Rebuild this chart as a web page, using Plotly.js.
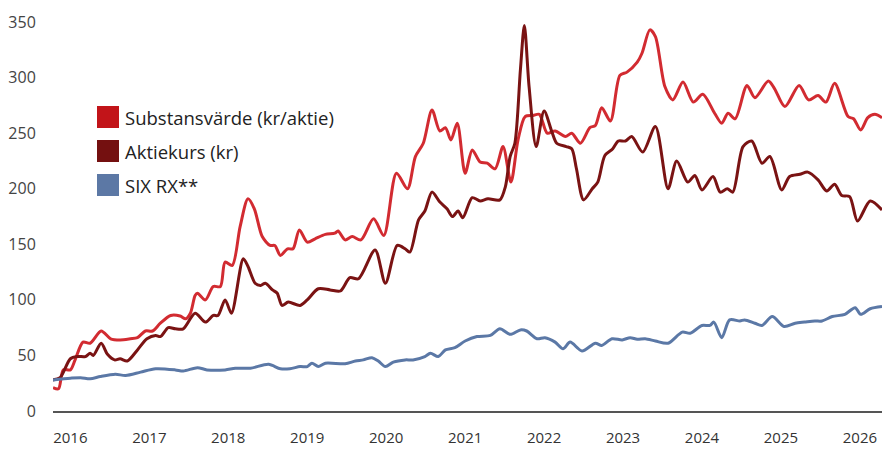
<!DOCTYPE html>
<html>
<head>
<meta charset="utf-8">
<script src="https://cdn.plot.ly/plotly-3.0.1.min.js"></script>
<style>html,body{margin:0;padding:0;background:#fff;}#chart{width:882px;height:449px;}</style>
</head>
<body>
<div id="chart"></div>
<script>
// Series names
const seriesNames = ["Substansvärde (kr/aktie)", "Aktiekurs (kr)", "SIX RX**"];

// Substansvärde (kr/aktie) — decimal year / value
const navX = [2015.78,2015.85,2015.91,2016.00,2016.06,2016.16,2016.25,2016.39,2016.51,2016.63,2016.76,2016.85,2016.95,2017.04,2017.14,2017.27,2017.39,2017.46,2017.52,2017.58,2017.61,2017.71,2017.81,2017.90,2017.96,2018.05,2018.15,2018.25,2018.33,2018.43,2018.53,2018.59,2018.66,2018.75,2018.82,2018.90,2019.00,2019.10,2019.23,2019.35,2019.39,2019.48,2019.57,2019.68,2019.84,2019.97,2020.13,2020.27,2020.37,2020.47,2020.58,2020.68,2020.75,2020.82,2020.90,2021.00,2021.09,2021.19,2021.28,2021.38,2021.48,2021.58,2021.67,2021.76,2021.86,2021.94,2022.04,2022.14,2022.27,2022.35,2022.46,2022.58,2022.65,2022.73,2022.84,2022.96,2023.05,2023.18,2023.24,2023.34,2023.41,2023.53,2023.63,2023.76,2023.89,2024.01,2024.16,2024.25,2024.33,2024.42,2024.57,2024.67,2024.84,2024.92,2025.05,2025.23,2025.35,2025.47,2025.57,2025.68,2025.85,2025.92,2026.01,2026.10,2026.19,2026.28];
const navY = [21,20,37,37,46,62,61,72,65,64,65,66,72,72,79,86,85.5,83,88,104,106,100,112,112,134,131,166,191,182,157,149,149,140,146,146,163,152,155,159,160,162,154,157,154,173,158,214,200,229,241,271,252,255,244,259,214,235,224,223,218,238,206,244,265,266,267,250,252,247,250,241,255,257,273,261,302,305,314,322,343,337,292,280,296,278,285,268,259,268,263,293,282,297,290,274,293,280,284,278,295,265,263,253,264,267,264];

// Aktiekurs (kr)
const priceX = [2015.78,2015.87,2016.00,2016.09,2016.19,2016.25,2016.29,2016.39,2016.47,2016.56,2016.63,2016.72,2016.85,2016.97,2017.08,2017.14,2017.24,2017.33,2017.43,2017.58,2017.71,2017.81,2017.87,2017.96,2018.04,2018.19,2018.25,2018.34,2018.41,2018.47,2018.56,2018.62,2018.68,2018.76,2018.91,2019.00,2019.14,2019.29,2019.42,2019.54,2019.65,2019.86,2019.99,2020.14,2020.24,2020.30,2020.41,2020.49,2020.58,2020.68,2020.77,2020.84,2020.91,2020.97,2021.09,2021.19,2021.29,2021.44,2021.51,2021.57,2021.63,2021.70,2021.75,2021.81,2021.90,2022.00,2022.10,2022.16,2022.28,2022.35,2022.41,2022.50,2022.61,2022.68,2022.77,2022.87,2022.94,2023.03,2023.11,2023.25,2023.41,2023.57,2023.68,2023.82,2023.91,2024.00,2024.14,2024.23,2024.32,2024.39,2024.52,2024.63,2024.76,2024.86,2025.01,2025.11,2025.24,2025.34,2025.47,2025.58,2025.68,2025.77,2025.87,2025.97,2026.13,2026.28];
const priceY = [28,30,47,49,49,52,50,61,51,46,47,45,55,65,68,67,75,74,74,88,80,86,86,100,88,137,130,115,113,115,109,106,95,98,95,100,110,109,108,120,119,145,115,149,146,143,172,180,197,188,182,175,180,174,192,189,191,190,202,229,241,307,347,292,238,270,251,241,238,236,218,190,200,206,230,236,243,243,247,233,256,200,225,206,212,199,211,197,200,197,238,243,223,229,199,211,213,215,208,198,204,194,193,171,189,181];

// SIX RX**
const indexX = [2015.78,2016.00,2016.13,2016.25,2016.38,2016.57,2016.70,2016.89,2017.08,2017.33,2017.43,2017.61,2017.73,2017.96,2018.09,2018.28,2018.51,2018.66,2018.78,2018.91,2019.00,2019.06,2019.14,2019.23,2019.48,2019.61,2019.71,2019.82,2019.90,2019.99,2020.09,2020.24,2020.34,2020.49,2020.56,2020.66,2020.75,2020.87,2021.00,2021.15,2021.32,2021.44,2021.57,2021.70,2021.78,2021.91,2022.01,2022.14,2022.24,2022.33,2022.48,2022.65,2022.73,2022.86,2022.99,2023.09,2023.18,2023.28,2023.41,2023.57,2023.75,2023.85,2024.00,2024.10,2024.15,2024.25,2024.35,2024.48,2024.54,2024.67,2024.76,2024.89,2025.04,2025.18,2025.30,2025.43,2025.52,2025.65,2025.81,2025.94,2026.01,2026.13,2026.28];
const indexY = [28,29.5,30,29,31,33,32,35,38,37,36,39,37,37,38.5,38.5,42,38,38,40,40,43,40,43,42.5,45,46,48,45,40,44,46,46,49,52,49,55,57,63,67,68,74,69,73,72,65,66,62,56,62,54,61,59,65,64,66,64.5,65,63,61,71,70,77,77,80,66,82,81,82,79,77,85,76,79,80,81,81,85,87,93,87,92,94];

// Axis ticks
const yearTicks = [2016,2017,2018,2019,2020,2021,2022,2023,2024,2025,2026];
const yearLabels = ["2016","2017","2018","2019","2020","2021","2022","2023","2024","2025","2026"];
const yTicks = [0,50,100,150,200,250,300,350];

const lineColors = ["#d22b31", "#7a1313", "#5b78a6"];
const swatchColors = ["#c21419", "#741010", "#5c78a5"];

const FONT = "Open Sans, Lato, sans-serif";

const traces = [
  {x: navX, y: navY, name: seriesNames[0], type: "scatter", mode: "lines",
   line: {color: lineColors[0], width: 3, shape: "spline", smoothing: 0.8}},
  {x: priceX, y: priceY, name: seriesNames[1], type: "scatter", mode: "lines",
   line: {color: lineColors[1], width: 3, shape: "spline", smoothing: 0.8}},
  {x: indexX, y: indexY, name: seriesNames[2], type: "scatter", mode: "lines",
   line: {color: lineColors[2], width: 3, shape: "spline", smoothing: 0.8}}
];

// Legend built from shapes + annotations (square swatches)
const legY = [0.735, 0.65, 0.565];
const shapes = [];
const annotations = [];
for (let i = 0; i < 3; i++) {
  shapes.push({type: "rect", xref: "paper", yref: "paper",
    x0: 0.0531, x1: 0.0796, y0: legY[i] - 0.0275, y1: legY[i] + 0.0275,
    fillcolor: swatchColors[i], line: {width: 0}});
  annotations.push({xref: "paper", yref: "paper", x: 0.0845, y: legY[i],
    xanchor: "left", yanchor: "middle", showarrow: false, text: seriesNames[i],
    font: {family: FONT, size: 18.5, color: "#222"}});
}

const layout = {
  width: 882, height: 449,
  margin: {l: 53, r: 0, t: 11, b: 38},
  paper_bgcolor: "#fff", plot_bgcolor: "#fff",
  showlegend: false,
  xaxis: {range: [2015.78, 2026.28], tickmode: "array", tickvals: yearTicks, ticktext: yearLabels,
    showgrid: false, zeroline: false, showline: true, linecolor: "#555", linewidth: 1.5,
    ticks: "outside", ticklen: 12, tickcolor: "rgba(0,0,0,0)",
    tickfont: {family: FONT, size: 15, color: "#333"}},
  yaxis: {range: [0, 360], tickmode: "array", tickvals: yTicks,
    showgrid: false, zeroline: false, showline: false,
    ticks: "outside", ticklen: 13, tickcolor: "rgba(0,0,0,0)",
    tickfont: {family: FONT, size: 16, color: "#444"}},
  shapes: shapes,
  annotations: annotations
};

Plotly.newPlot("chart", traces, layout, {displayModeBar: false, staticPlot: true});
</script>
</body>
</html>
